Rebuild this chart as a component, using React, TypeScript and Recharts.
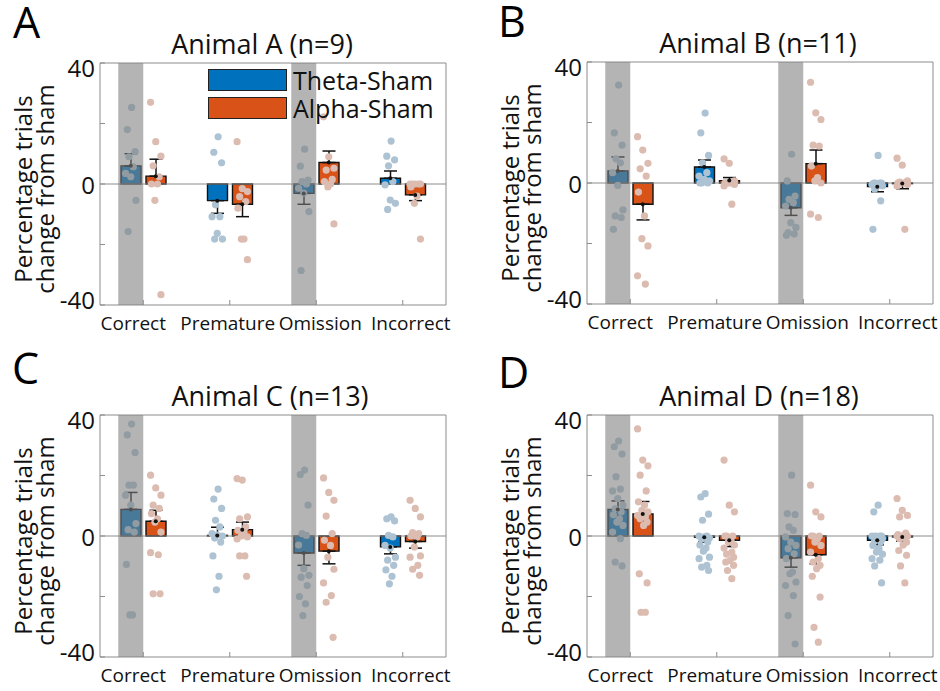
import React from "react";
import {
  ComposedChart,
  Bar,
  Scatter,
  XAxis,
  YAxis,
  ErrorBar,
  ReferenceArea,
  ReferenceLine,
} from "recharts";

const categories = ["Correct", "Premature", "Omission", "Incorrect"];
const highlighted = ["Correct", "Omission"];
const yTicks = [-40, -20, 0, 20, 40];
const yLabels = [-40, 0, 40];

// Animal A (n=9)
const thetaMeanA = [6.0, -5.5, -3.1, 1.9];
const thetaSemA = [4.0, 4.2, 3.6, 2.4];
const alphaMeanA = [2.6, -6.7, 7.1, -3.6];
const alphaSemA = [5.6, 4.1, 3.8, 1.9];
const thetaPointsA = [
  [25.3, 18.0, 10.7, 9.0, 5.7, 3.5, 2.4, -5.4, -15.7],
  [15.6, 10.5, 7.0, -6.9, -10.8, -10.8, -16.3, -18.2, -18.2],
  [11.5, 5.9, 1.3, 0.8, 0, -1.4, -3.0, -9.1, -28.6],
  [14.2, 9.2, 8.0, 6.0, 0.8, -0.3, -5.3, -6.4, -8.4],
];
const alphaPointsA = [
  [27.0, 14.0, 9.2, 6.0, 2.4, 0, 0, -5.4, -36.6],
  [14.0, -1.5, -2.5, -4.2, -5.8, -8.0, -18.2, -18.2, -25.0],
  [22.2, 9.0, 5.2, 4.6, 1.5, 0.8, 0, -1.0, -13.2],
  [0, 0, 0, 0, 0, -1.0, -4.0, -6.4, -18.2],
];

// Animal B (n=11)
const thetaMeanB = [4.0, 5.3, -8.2, -1.2];
const thetaSemB = [4.6, 2.3, 2.5, 1.7];
const alphaMeanB = [-7.0, 0.8, 6.4, -0.2];
const alphaSemB = [5.2, 1.0, 4.5, 1.7];
const thetaPointsB = [
  [32.4, 16.6, 12.5, 8.0, 6.7, 3.4, -0.8, -8.9, -10.9, -11.4, -15.3],
  [23.1, 16.6, 9.1, 6.7, 3.4, 2.3, 1.2, 0.7, 0, 0, 0],
  [9.5, 0.7, -4.3, -5.4, -6.5, -7.6, -13.1, -14.7, -16.4, -16.9, -17.3],
  [9.1, 0, 0, 0, 0, -0.5, -1.0, -1.0, -2.0, -5.9, -15.3],
];
const alphaPointsB = [
  [15.3, 10.9, 6.5, 4.7, 2.3, -3.0, -10.9, -18.4, -20.8, -30.7, -33.4],
  [8.0, 6.5, 0.7, 0, 0, 0, 0, 0, -0.5, -1.0, -7.0],
  [33.3, 23.2, 21.0, 12.5, 12.2, 5.6, 1.8, 0.7, 0, -10.3, -11.4],
  [8.2, 5.9, 0.7, 0.3, 0, 0, 0, 0, -0.5, -1.0, -15.3],
];

// Animal C (n=13)
const thetaMeanC = [8.8, 0.2, -5.6, -3.6];
const thetaSemC = [5.6, 2.7, 4.1, 2.3];
const alphaMeanC = [4.9, 2.1, -5.0, -1.8];
const alphaSemC = [3.6, 2.5, 4.2, 2.2];
const thetaPointsC = [
  [37.0, 33.4, 27.6, 16.8, 16.8, 13.5, 10.2, 4.1, 2.1, 1.3, -9.4, -26.1, -26.1],
  [15.5, 12.2, 9.1, 5.2, 3.0, 0.8, 0.3, 0, -0.7, -2.0, -6.6, -13.3, -17.8],
  [21.8, 20.3, 10.2, 0.8, 0.2, -3.0, -10.8, -13.0, -13.6, -16.4, -20.0, -22.4, -26.3],
  [6.3, 5.7, 5.0, 0.2, -0.3, -3.1, -4.0, -7.0, -8.0, -9.7, -11.2, -13.3, -15.8],
];
const alphaPointsC = [
  [20.1, 15.9, 13.5, 10.2, 9.1, 7.4, 5.7, 4.6, 1.3, -5.5, -6.2, -19.1, -19.1],
  [19.0, 18.5, 6.3, 5.7, 3.0, 1.9, 1.3, 0, -0.3, -1.0, -6.6, -6.6, -13.3],
  [19.2, 14.4, 11.8, 6.6, 0.8, -1.4, -3.1, -7.0, -11.0, -15.5, -19.7, -21.9, -33.5],
  [11.8, 9.1, 6.3, 1.1, 0.8, 0, -0.3, -3.6, -6.6, -7.0, -9.7, -11.0, -13.0],
];

// Animal D (n=18)
const thetaMeanD = [8.8, -0.4, -7.2, -1.4];
const thetaSemD = [2.8, 1.6, 3.1, 1.5];
const alphaMeanD = [7.3, -1.4, -6.2, -0.3];
const alphaSemD = [4.1, 2.1, 3.0, 1.4];
const thetaPointsD = [
  [31.4, 29.5, 27.1, 19.6, 15.5, 14.9, 12.4, 10.2, 9.0, 8.0, 7.0, 5.7, 4.6, 3.5, 1.3, -0.9, -8.6, -9.9],
  [14.0, 12.9, 7.2, 5.2, 0, 0, -0.3, -0.7, -1.0, -2.0, -3.0, -4.0, -5.0, -7.0, -7.5, -9.7, -10.3, -11.4],
  [20.1, 7.4, 7.1, 3.0, 1.9, -0.3, -2.0, -3.1, -4.2, -5.9, -7.5, -11.9, -12.5, -15.2, -16.4, -19.7, -26.3, -35.7],
  [10.2, 8.0, 0, 0, 0, 0, -0.3, -0.9, -1.4, -2.0, -3.1, -4.2, -5.3, -6.0, -7.5, -8.0, -9.9, -15.5],
];
const alphaPointsD = [
  [35.4, 25.1, 23.2, 20.1, 14.9, 11.3, 10.2, 8.5, 8.0, 6.8, 6.3, 5.7, 4.6, 3.5, -12.5, -15.5, -25.2, -25.2],
  [25.1, 10.2, 8.0, 0, 0, 0, -1.4, -2.0, -3.0, -4.0, -5.3, -6.0, -7.0, -8.1, -8.6, -9.7, -11.4, -14.1],
  [16.8, 8.0, 6.3, 0, 0, 0, -0.9, -2.0, -3.1, -5.3, -7.5, -8.6, -9.7, -10.8, -13.3, -20.2, -30.2, -35.1],
  [12.4, 8.5, 6.8, 6.3, 1.0, 0.5, 0, 0, 0, 0, -0.5, -1.0, -2.0, -3.0, -4.8, -6.4, -9.9, -15.5],
];

const THETA = "#0072BD";
const ALPHA = "#D95319";
const THETA_DOT = "#adc3d3";
const ALPHA_DOT = "#dcbcb1";
const AXIS = "#8c8c8c";
const FONT = '"Open Sans", "Noto Sans", sans-serif';

// bar centre offset from category centre, in category units (12.5px of 86.5px)
const OFFSET = 0.1445;
// horizontal scatter of the dots around each bar
const JITTER = [0.01, -0.04, 0.05, -0.02, 0.03, -0.06, 0.0, 0.06, -0.03, 0.04, -0.05, 0.02, -0.01, 0.06, -0.06, 0.03, -0.03, 0.05];
// category labels sit a little off their tick, as in the original figure
const LABEL_DX = [-10, -2, 4, 8];

const YTick = (props: any) => {
  const { x, y, payload } = props;
  const v = payload.value;
  if (!yLabels.includes(v)) return <g />;
  const shift = v === 40 ? 4 : v === -40 ? -6 : 0;
  return (
    <text x={x} y={y + shift} textAnchor="end" dominantBaseline="central" fontSize={24} fill="#111">
      {v}
    </text>
  );
};

const XTick = (props: any) => {
  const { x, y, payload, index } = props;
  return (
    <text x={x + (LABEL_DX[index] || 0)} y={y} dy="0.71em" textAnchor="middle" fontSize={19} fill="#111">
      {payload.value}
    </text>
  );
};

const dot = (color: string, r: number) => (p: any) => <circle cx={p.cx} cy={p.cy} r={r} fill={color} />;

function Panel(props: any) {
  const { left, top, title, titleDx, letter, letterX, letterY, thetaMean, thetaSem, alphaMean, alphaSem, thetaPts, alphaPts, legend } = props;

  const rows = categories.map((c, i) => ({
    cat: c,
    theta: thetaMean[i],
    alpha: alphaMean[i],
    thetaErr: thetaMean[i] >= 0 ? [0, thetaSem[i]] : [thetaSem[i], 0],
    alphaErr: alphaMean[i] >= 0 ? [0, alphaSem[i]] : [alphaSem[i], 0],
  }));

  const thetaDots = thetaPts.flatMap((vals: number[], i: number) =>
    vals.map((v, j) => ({ x: i + 1 - OFFSET + JITTER[j % JITTER.length], y: v }))
  );
  const alphaDots = alphaPts.flatMap((vals: number[], i: number) =>
    vals.map((v, j) => ({ x: i + 1 + OFFSET + JITTER[(j + 5) % JITTER.length], y: v }))
  );
  const means = categories.flatMap((c, i) => [
    { x: i + 1 - OFFSET, y: thetaMean[i] },
    { x: i + 1 + OFFSET, y: alphaMean[i] },
  ]);

  return (
    <>
      <div style={{ position: "absolute", left, top, width: 453, height: 345 }}>
        <ComposedChart width={453} height={345} data={rows} margin={{ top: 62, right: 6, bottom: 39, left: 40 }} barGap={5}>
          <XAxis
            xAxisId="cat"
            dataKey="cat"
            interval={0}
            height={1}
            tickSize={-5}
            tickMargin={17}
            stroke={AXIS}
            tick={<XTick />}
          />
          <XAxis
            xAxisId="num"
            type="number"
            dataKey="x"
            orientation="top"
            domain={[0.5, 4.5]}
            ticks={[1, 2, 3, 4]}
            allowDataOverflow
            height={1}
            tickSize={-5}
            tick={false}
            stroke={AXIS}
          />
          <YAxis
            yAxisId="y"
            domain={[-40, 40]}
            ticks={yTicks}
            interval={0}
            allowDataOverflow
            width={60}
            tickSize={-5}
            tickMargin={10}
            stroke={AXIS}
            tick={<YTick />}
          />
          <YAxis
            yAxisId="r"
            orientation="right"
            domain={[-40, 40]}
            ticks={yTicks}
            interval={0}
            width={1}
            tickSize={-5}
            tick={false}
            stroke={AXIS}
          />
          <ReferenceLine xAxisId="cat" yAxisId="y" y={0} stroke="#8c8c8c" strokeWidth={1} />
          <Bar xAxisId="cat" yAxisId="y" dataKey="theta" barSize={20} fill={THETA} stroke="#111" strokeWidth={1.4} isAnimationActive={false}>
            <ErrorBar dataKey="thetaErr" direction="y" width={6.5} stroke="#111" strokeWidth={1.5} />
          </Bar>
          <Bar xAxisId="cat" yAxisId="y" dataKey="alpha" barSize={20} fill={ALPHA} stroke="#111" strokeWidth={1.4} isAnimationActive={false}>
            <ErrorBar dataKey="alphaErr" direction="y" width={6.5} stroke="#111" strokeWidth={1.5} />
          </Bar>
          <Scatter xAxisId="num" yAxisId="y" data={thetaDots} dataKey="y" shape={dot(THETA_DOT, 3.6)} isAnimationActive={false} />
          <Scatter xAxisId="num" yAxisId="y" data={alphaDots} dataKey="y" shape={dot(ALPHA_DOT, 3.6)} isAnimationActive={false} />
          <Scatter xAxisId="num" yAxisId="y" data={means} dataKey="y" shape={dot("#111", 2)} isAnimationActive={false} />
          {highlighted.map((c) => {
            const i = categories.indexOf(c);
            return (
              <ReferenceArea
                key={c}
                xAxisId="num"
                yAxisId="y"
                x1={i + 1 - 2 * OFFSET}
                x2={i + 1}
                y1={-40}
                y2={40}
                fill="#7d7d7d"
                fillOpacity={0.58}
                stroke="none"
                ifOverflow="visible"
                zIndex={650}
              />
            );
          })}
        </ComposedChart>
      </div>
      <div
        style={{
          position: "absolute",
          left: left + 100 + 173 + titleDx,
          top: top + 63 - 33,
          transform: "translateX(-50%)",
          fontSize: 27,
          lineHeight: 1,
          whiteSpace: "nowrap",
          color: "#111",
        }}
      >
        {title}
      </div>
      <div
        style={{
          position: "absolute",
          left: left + 100 - 66,
          top: top + 63 + 126,
          transform: "translate(-50%, -50%) rotate(-90deg)",
          fontSize: 24,
          lineHeight: "22px",
          whiteSpace: "nowrap",
          textAlign: "center",
          color: "#111",
        }}
      >
        <div>Percentage trials</div>
        <div>change from sham</div>
      </div>
      <div style={{ position: "absolute", left: letterX, top: letterY, fontSize: 43, lineHeight: "43px", color: "#000" }}>{letter}</div>
      {legend && (
        <>
          {[
            { name: "Theta-Sham", color: THETA, y: 69 },
            { name: "Alpha-Sham", color: ALPHA, y: 97 },
          ].map((l) => (
            <React.Fragment key={l.name}>
              <div
                style={{
                  position: "absolute",
                  left: 208,
                  top: l.y,
                  width: 77,
                  height: 20,
                  background: l.color,
                  border: "1.5px solid #222",
                }}
              />
              <div style={{ position: "absolute", left: 293, top: l.y, fontSize: 25, lineHeight: "22px", color: "#111", whiteSpace: "nowrap" }}>
                {l.name}
              </div>
            </React.Fragment>
          ))}
        </>
      )}
    </>
  );
}

export default function App() {
  return (
    <div
      style={{
        position: "absolute",
        left: 0,
        top: 0,
        width: 940,
        height: 691,
        background: "#fff",
        fontFamily: FONT,
        overflow: "hidden",
      }}
    >
      <Panel
        left={0}
        top={0}
        title="Animal A (n=9)"
        titleDx={-11}
        letter="A"
        letterX={13}
        letterY={0}
        thetaMean={thetaMeanA}
        thetaSem={thetaSemA}
        alphaMean={alphaMeanA}
        alphaSem={alphaSemA}
        thetaPts={thetaPointsA}
        alphaPts={alphaPointsA}
        legend
      />
      <Panel
        left={487}
        top={-1}
        title="Animal B (n=11)"
        titleDx={-2}
        letter="B"
        letterX={498}
        letterY={-1}
        thetaMean={thetaMeanB}
        thetaSem={thetaSemB}
        alphaMean={alphaMeanB}
        alphaSem={alphaSemB}
        thetaPts={thetaPointsB}
        alphaPts={alphaPointsB}
      />
      <Panel
        left={0}
        top={352}
        title="Animal C (n=13)"
        titleDx={-3}
        letter="C"
        letterX={12}
        letterY={346}
        thetaMean={thetaMeanC}
        thetaSem={thetaSemC}
        alphaMean={alphaMeanC}
        alphaSem={alphaSemC}
        thetaPts={thetaPointsC}
        alphaPts={alphaPointsC}
      />
      <Panel
        left={487}
        top={352}
        title="Animal D (n=18)"
        titleDx={-1}
        letter="D"
        letterX={498}
        letterY={350}
        thetaMean={thetaMeanD}
        thetaSem={thetaSemD}
        alphaMean={alphaMeanD}
        alphaSem={alphaSemD}
        thetaPts={thetaPointsD}
        alphaPts={alphaPointsD}
      />
    </div>
  );
}
